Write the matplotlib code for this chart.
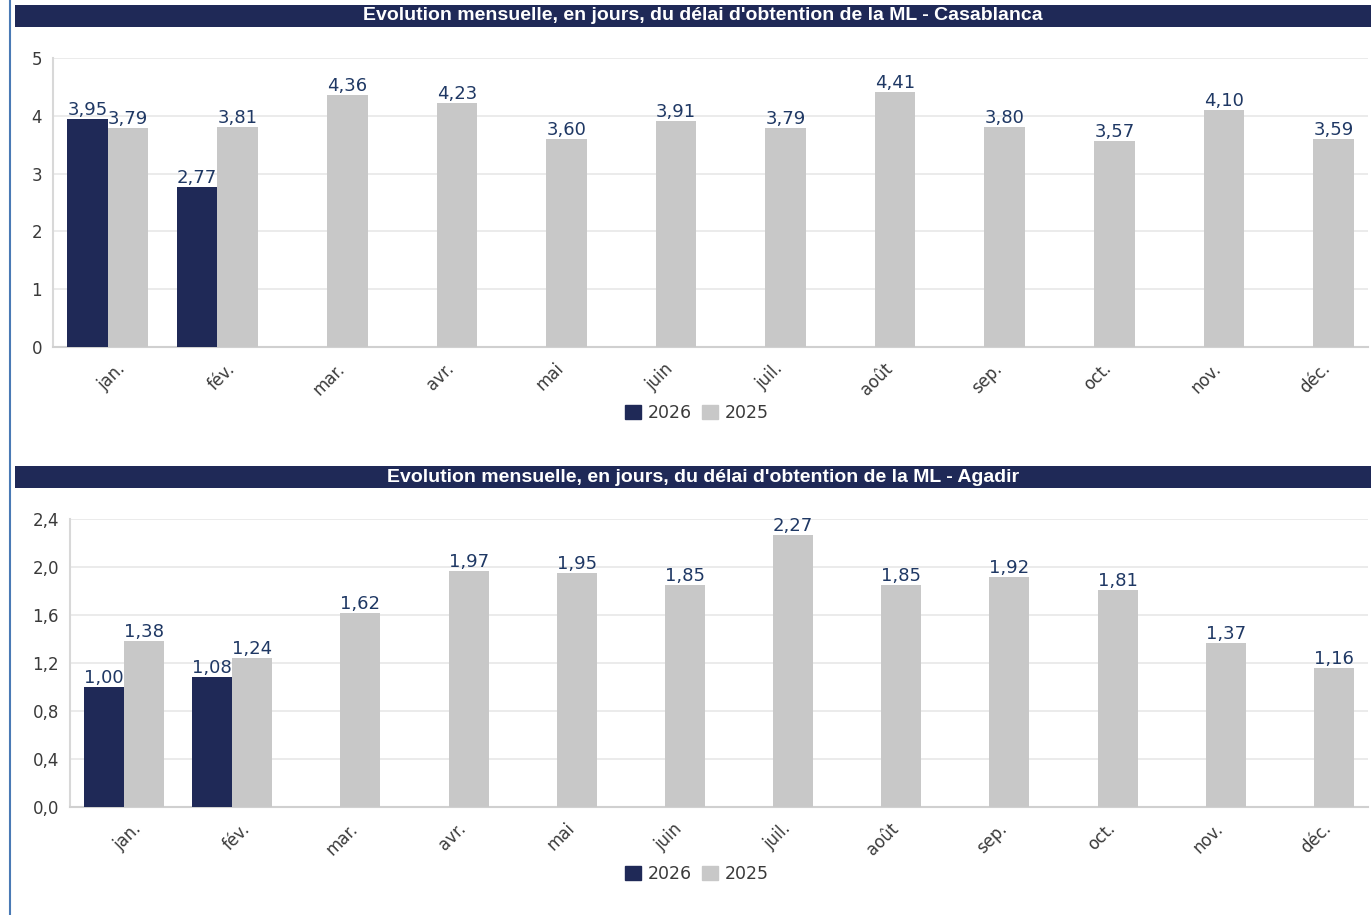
import matplotlib.pyplot as plt
import matplotlib.patches as mpatches

months = ['jan.', 'fév.', 'mar.', 'avr.', 'mai', 'juin', 'juil.', 'août', 'sep.', 'oct.', 'nov.', 'déc.']

casa_2026 = [3.95, 2.77]
casa_2025 = [3.79, 3.81, 4.36, 4.23, 3.60, 3.91, 3.79, 4.41, 3.80, 3.57, 4.10, 3.59]

agadir_2026 = [1.00, 1.08]
agadir_2025 = [1.38, 1.24, 1.62, 1.97, 1.95, 1.85, 2.27, 1.85, 1.92, 1.81, 1.37, 1.16]

navy = '#1f2957'
grey = '#c8c8c8'
label_col = '#1f3864'
tick_col = '#3a3a3a'

fig = plt.figure(figsize=(13.71, 9.15), dpi=100)
W, H = 1371, 915


def fx(px):
    return px / W


def fy(py):
    return 1 - py / H


# left border line
fig.add_artist(plt.Line2D([fx(10), fx(10)], [0, 1], color='#4a7ab5', lw=1.5))


def title_bar(y0, y1, text):
    fig.add_artist(mpatches.Rectangle((fx(15), fy(y1)), 1 - fx(15), fy(y0) - fy(y1),
                                      transform=fig.transFigure, color=navy, lw=0))
    fig.text(fx(703), (fy(y0) + fy(y1)) / 2, text, color='white',
             ha='center', va='center', fontsize=14, fontweight='bold',
             family='Liberation Sans')


def draw_panel(left, right, top, bottom, v26, v25, ymax, yticks, fmt, legend_y):
    ax = fig.add_axes([fx(left), fy(bottom), fx(right) - fx(left), fy(top) - fy(bottom)])
    w = 0.37
    x = list(range(len(months)))
    ax.bar([i - w / 2 for i in range(len(v26))], v26, w, color=navy, zorder=3)
    ax.bar([i + w / 2 for i in x], v25, w, color=grey, zorder=3)
    for i, v in enumerate(v26):
        ax.text(i - w / 2, v, f'{v:.2f}'.replace('.', ','), ha='center', va='bottom',
                color=label_col, fontsize=13, zorder=4)
    for i, v in enumerate(v25):
        ax.text(i + w / 2, v, f'{v:.2f}'.replace('.', ','), ha='center', va='bottom',
                color=label_col, fontsize=13, zorder=4)
    ax.set_xlim(-0.5, 11.5)
    ax.set_ylim(0, ymax)
    ax.set_yticks(yticks)
    ax.set_yticklabels([fmt(t) for t in yticks], color=tick_col, fontsize=12)
    ax.set_xticks(x)
    ax.set_xticklabels([])
    # month labels, rotated, anchored a little right of the tick
    for i, m in enumerate(months):
        ax.annotate(m, (i, 0), xycoords=('data', 'axes fraction'), xytext=(6, -9),
                    textcoords='offset points', rotation=45, ha='right', va='top',
                    rotation_mode='anchor', color=tick_col, fontsize=12)
    ax.tick_params(length=0, pad=8)
    ax.grid(axis='y', color='#e8e8e8', lw=1.2, zorder=0)
    for s in ['top', 'right']:
        ax.spines[s].set_visible(False)
    ax.spines['left'].set_color('#d8d8d8')
    ax.spines['bottom'].set_color('#d0d0d0')
    ax.spines['left'].set_linewidth(1.5)
    ax.spines['bottom'].set_linewidth(1.5)
    handles = [mpatches.Patch(color=navy, label='2026'), mpatches.Patch(color=grey, label='2025')]
    fig.legend(handles=handles, loc='center', bbox_to_anchor=(fx(697), fy(legend_y)),
               ncol=2, frameon=False, fontsize=12.5, handlelength=0.9, handleheight=0.9,
               handletextpad=0.4, columnspacing=0.6, labelcolor=tick_col)
    return ax


title_bar(5, 27, "Evolution mensuelle, en jours, du délai d'obtention de la ML - Casablanca")
title_bar(466, 488, "Evolution mensuelle, en jours, du délai d'obtention de la ML - Agadir")

draw_panel(53, 1368, 58, 347, casa_2026, casa_2025, 5, [0, 1, 2, 3, 4, 5],
           lambda t: f'{t:d}', 413)
draw_panel(70, 1368, 519, 807, agadir_2026, agadir_2025, 2.4,
           [0, 0.4, 0.8, 1.2, 1.6, 2.0, 2.4],
           lambda t: f'{t:.1f}'.replace('.', ','), 874)

fig.savefig('out.png', dpi=100)
